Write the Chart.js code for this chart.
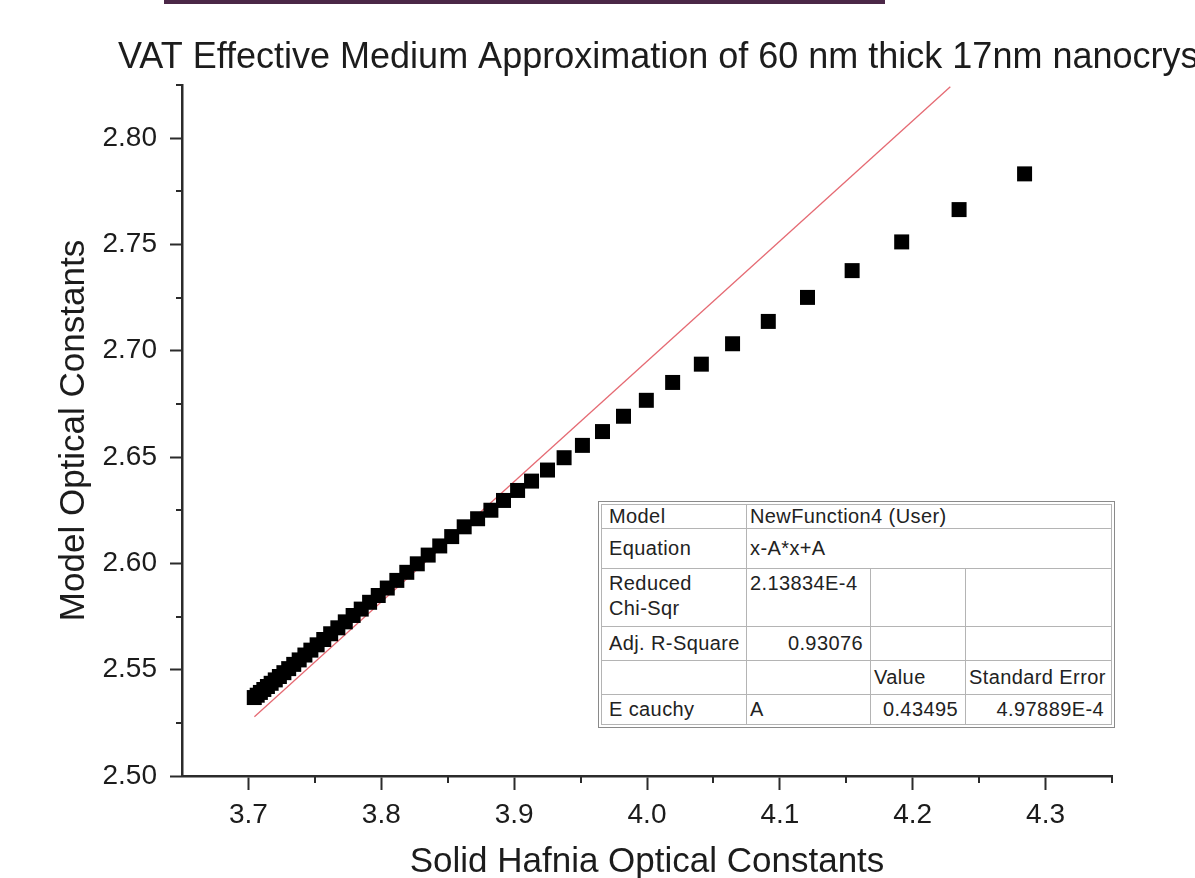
<!DOCTYPE html>
<html>
<head>
<meta charset="utf-8">
<script src="https://cdn.jsdelivr.net/npm/chart.js@4"></script>
<style>
  body { margin: 0; background: #fff; }
  #wrap { position: relative; width: 1195px; height: 878px; overflow: hidden; }
  #chart { position: absolute; left: 0; top: 0; }
  #fit { position: absolute; left: 598px; top: 501px; border: 1px solid #8a8a8a; padding: 2px; background: #fff; }
  #fit table { border-collapse: collapse; font: 20px "Liberation Sans", Arial, sans-serif; letter-spacing: 0.4px; color: #222; }
  #fit td { border: 1px solid #b4b4b4; padding: 0 3px; vertical-align: middle; white-space: nowrap; }
  #fit td.h { padding-left: 7px; }
  #fit td.r { text-align: right; padding-right: 7px; }
  #fit tr.top td { vertical-align: top; padding-top: 2px; line-height: 25px; }
</style>
</head>
<body>
<div id="wrap">
  <canvas id="chart" width="1195" height="878"></canvas>
  <div id="fit">
    <table>
      <colgroup><col style="width:145px"><col style="width:124px"><col style="width:95px"><col style="width:146px"></colgroup>
      <tr style="height:20px"><td class="h">Model</td><td colspan="3">NewFunction4 (User)</td></tr>
      <tr style="height:40px"><td class="h">Equation</td><td colspan="3">x-A*x+A</td></tr>
      <tr class="top" style="height:58px"><td class="h">Reduced<br>Chi-Sqr</td><td>2.13834E-4</td><td></td><td></td></tr>
      <tr style="height:34px"><td class="h">Adj. R-Square</td><td class="r">0.93076</td><td></td><td></td></tr>
      <tr style="height:34px"><td class="h"></td><td></td><td>Value</td><td>Standard Error</td></tr>
      <tr style="height:30px"><td class="h">E cauchy</td><td>A</td><td class="r">0.43495</td><td class="r">4.97889E-4</td></tr>
    </table>
  </div>
</div>
<script>
// solid hafnia n (x) vs model n (y)
const solidN = [
  3.7044, 3.7066, 3.7090, 3.7116, 3.7143, 3.7171, 3.7202, 3.7233, 3.7267, 3.7303,
  3.7341, 3.7382, 3.7425, 3.7470, 3.7517, 3.7567, 3.7619, 3.7673, 3.7729, 3.7788,
  3.7849, 3.7912, 3.7977, 3.8045, 3.8117, 3.8192, 3.8271, 3.8353, 3.8440, 3.8530,
  3.8624, 3.8725, 3.8825, 3.8920, 3.9026, 3.9131, 3.9251, 3.9376, 3.9514, 3.9665,
  3.9823, 3.9995, 4.0193, 4.0409, 4.0644, 4.0913, 4.1208, 4.1544, 4.1917, 4.2349,
  4.2842
];
const modelN = [
  2.5369, 2.5380, 2.5393, 2.5407, 2.5421, 2.5436, 2.5452, 2.5468, 2.5486, 2.5505,
  2.5525, 2.5546, 2.5569, 2.5592, 2.5617, 2.5642, 2.5669, 2.5697, 2.5725, 2.5755,
  2.5785, 2.5817, 2.5849, 2.5884, 2.5920, 2.5958, 2.5998, 2.6039, 2.6082, 2.6126,
  2.6172, 2.6210, 2.6250, 2.6296, 2.6343, 2.6387, 2.6439, 2.6497, 2.6555, 2.6620,
  2.6692, 2.6767, 2.6851, 2.6937, 2.7033, 2.7138, 2.7251, 2.7377, 2.7512, 2.7664,
  2.7832
];
// fitted line ends
const fitX = [3.7045, 4.2283];
const fitY = [2.5279, 2.8242];

const xMajor = [3.7, 3.8, 3.9, 4.0, 4.1, 4.2, 4.3];
const yMajor = [2.50, 2.55, 2.60, 2.65, 2.70, 2.75, 2.80];
const xMinor = [3.75, 3.85, 3.95, 4.05, 4.15, 4.25, 4.35];
const yMinor = [2.525, 2.575, 2.625, 2.675, 2.725, 2.775, 2.825];

const chartTitle = 'VAT Effective Medium Approximation of 60 nm thick 17nm nanocryst';
const xTitle = 'Solid Hafnia Optical Constants';
const yTitle = 'Model Optical Constants';

const axisColor = '#2b2b2b';
const textColor = '#1c1c1c';
const fontFamily = '"Liberation Sans", Arial, sans-serif';

const toPoints = (xs, ys) => xs.map((x, i) => ({x: x, y: ys[i]}));

const extras = {
  id: 'extras',
  beforeDraw(chart) {
    const ctx = chart.ctx;
    ctx.save();
    ctx.fillStyle = '#4b2747';
    ctx.fillRect(164, 0, 721, 4);
    ctx.fillStyle = textColor;
    ctx.font = '36px ' + fontFamily;
    ctx.textBaseline = 'alphabetic';
    ctx.fillText(chartTitle, 118, 68);
    ctx.restore();
  },
  afterDraw(chart) {
    const {ctx, scales: {x, y}} = chart;
    ctx.save();
    ctx.strokeStyle = axisColor;
    ctx.lineWidth = 2;
    ctx.beginPath();
    xMinor.forEach(v => {
      const px = Math.round(x.getPixelForValue(v));
      ctx.moveTo(px, x.top);
      ctx.lineTo(px, x.top + 7);
    });
    yMinor.forEach(v => {
      const py = Math.round(y.getPixelForValue(v));
      ctx.moveTo(y.right - 6, py);
      ctx.lineTo(y.right, py);
    });
    ctx.stroke();
    ctx.restore();
  }
};

new Chart(document.getElementById('chart'), {
  type: 'scatter',
  data: {
    datasets: [{
      label: 'Model',
      data: toPoints(solidN, modelN),
      pointStyle: 'rect',
      pointRadius: 10.6,
      pointBackgroundColor: '#000',
      pointBorderColor: '#000',
      pointBorderWidth: 0
    }, {
      label: 'Fit',
      type: 'line',
      data: toPoints(fitX, fitY),
      showLine: true,
      borderColor: 'rgba(225, 80, 90, 0.85)',
      borderWidth: 1.3,
      pointRadius: 0,
      fill: false
    }]
  },
  plugins: [extras],
  options: {
    responsive: false,
    animation: false,
    events: [],
    layout: { padding: { top: 85, right: 83, left: 0, bottom: 0 } },
    plugins: { legend: { display: false }, tooltip: { enabled: false }, title: { display: false } },
    scales: {
      x: {
        type: 'linear',
        min: 3.65,
        max: 4.35,
        afterFit: s => { s.height = 102; },
        afterBuildTicks: s => { s.ticks = xMajor.map(v => ({value: v})); },
        ticks: {
          padding: 8,
          color: textColor,
          font: { family: fontFamily, size: 28 },
          callback: v => v.toFixed(1)
        },
        grid: { drawOnChartArea: false, drawTicks: true, tickLength: 14, tickWidth: 2, tickColor: axisColor },
        border: { display: true, color: axisColor, width: 2.5 },
        title: { display: true, text: xTitle, color: textColor, padding: 0, font: { family: fontFamily, size: 35, lineHeight: 0.9 } }
      },
      y: {
        type: 'linear',
        min: 2.5,
        max: 2.825,
        afterFit: s => { s.width = 182; },
        afterBuildTicks: s => { s.ticks = yMajor.map(v => ({value: v})); },
        ticks: {
          padding: 13,
          color: textColor,
          font: { family: fontFamily, size: 28 },
          callback: v => v.toFixed(2)
        },
        grid: { drawOnChartArea: false, drawTicks: true, tickLength: 12, tickWidth: 2, tickColor: axisColor },
        border: { display: true, color: axisColor, width: 2.5 },
        title: { display: true, text: yTitle, color: textColor, padding: { top: 57, bottom: 0 }, font: { family: fontFamily, size: 35, lineHeight: 1 } }
      }
    }
  }
});
</script>
</body>
</html>
